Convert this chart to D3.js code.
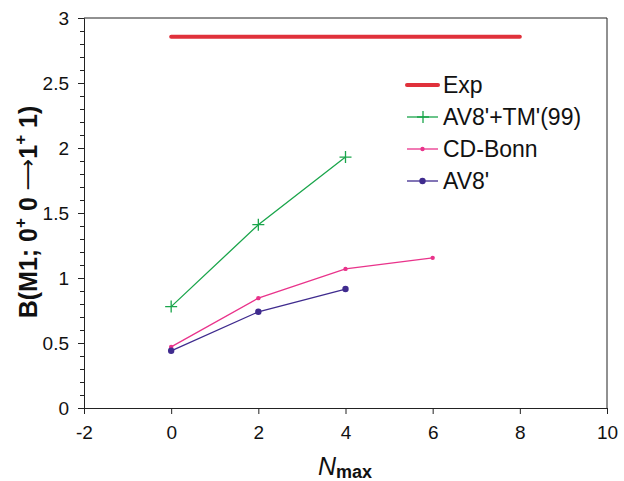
<!DOCTYPE html>
<html>
<head>
<meta charset="utf-8">
<script src="https://cdn.jsdelivr.net/npm/d3@7"></script>
<style>
  body { margin: 0; background: #fff; }
  svg { display: block; font-family: "Liberation Sans", Arial, Helvetica, sans-serif; }
</style>
</head>
<body>
<svg id="chart" width="624" height="481"></svg>
<script>
// values
const nmax = [0, 2, 4, 6];
const expValue = 2.855;
const expRange = [0, 8];
const av8tm = [0.78, 1.41, 1.93];
const cdBonn = [0.47, 0.845, 1.07, 1.155];
const av8 = [0.44, 0.74, 0.915];
const xTicks = [-2, 0, 2, 4, 6, 8, 10];
const yTicks = [0, 0.5, 1, 1.5, 2, 2.5, 3];
const legendNames = ["Exp", "AV8'+TM'(99)", "CD-Bonn", "AV8'"];

const colors = { exp: '#e0313b', tm: '#1aa54b', bonn: '#e9338b', av8: '#3f2b8e' };

const svg = d3.select('#chart');
const margin = { left: 84, right: 17, top: 18, bottom: 73 };
const width = 624, height = 481;

const x = d3.scaleLinear().domain([-2, 10]).range([margin.left, width - margin.right]);
const y = d3.scaleLinear().domain([0, 3]).range([height - margin.bottom, margin.top]);

// frame: top and right edges
svg.append('path')
    .attr('d', `M${x(-2)},${y(3)}H${x(10)}V${y(0)}`)
    .attr('fill', 'none')
    .attr('stroke', '#222')
    .attr('stroke-width', 1);

// x axis (plain hyphen for negatives, like the original)
const xAxis = svg.append('g')
    .attr('transform', `translate(0,${y(0)})`)
    .call(d3.axisBottom(x).tickValues(xTicks).tickSize(6).tickPadding(12).tickFormat(d => String(d)));
xAxis.select('.domain').attr('stroke', '#222');
xAxis.selectAll('.tick line').attr('stroke', '#222');
xAxis.selectAll('text').style('font-size', '19px').attr('fill', '#111');

// y axis with minor ticks every 0.1
const yMinor = svg.append('g')
    .attr('transform', `translate(${x(-2)},0)`)
    .call(d3.axisLeft(y).ticks(30).tickSize(4).tickFormat(''));
yMinor.select('.domain').remove();
yMinor.selectAll('.tick line').attr('stroke', '#222');

const yAxis = svg.append('g')
    .attr('transform', `translate(${x(-2)},0)`)
    .call(d3.axisLeft(y).tickValues(yTicks).tickSize(6).tickPadding(9).tickFormat(d => String(d)));
yAxis.select('.domain').attr('stroke', '#222');
yAxis.selectAll('.tick line').attr('stroke', '#222');
yAxis.selectAll('text').style('font-size', '19px').attr('fill', '#111');

// axis titles
const xt = svg.append('text')
    .attr('x', 318)
    .attr('y', 475)
    .attr('fill', '#111');
xt.append('tspan').text('N').style('font-style', 'italic').style('font-size', '25px');
xt.append('tspan').text('max').style('font-weight', 'bold').style('font-size', '18px').attr('dy', 3);

const yt = svg.append('text')
    .attr('transform', 'translate(37,212) rotate(-90)')
    .attr('text-anchor', 'middle')
    .attr('fill', '#111')
    .style('font-weight', 'bold')
    .style('font-size', '25px');
yt.append('tspan').text('B(M1; 0');
yt.append('tspan').text('+').attr('dy', -11).style('font-size', '17px');
yt.append('tspan').text(' 0 ').attr('dy', 11);
yt.append('tspan').text('\u27F6')
    .style('font-family', '"DejaVu Sans", sans-serif')
    .style('font-weight', 'normal')
    .style('font-size', '22px')
    .attr('dy', -2);
yt.append('tspan').text('1').attr('dy', 2);
yt.append('tspan').text('+').attr('dy', -11).style('font-size', '17px');
yt.append('tspan').text(' 1)').attr('dy', 11);

// Exp line
svg.append('line')
    .attr('x1', x(expRange[0])).attr('x2', x(expRange[1]))
    .attr('y1', y(expValue)).attr('y2', y(expValue))
    .attr('stroke', colors.exp)
    .attr('stroke-width', 4)
    .attr('stroke-linecap', 'round');

const line = d3.line().x(d => x(d[0])).y(d => y(d[1]));

function series(vals, color) {
    const pts = vals.map((v, i) => [nmax[i], v]);
    svg.append('path')
        .datum(pts)
        .attr('d', line)
        .attr('fill', 'none')
        .attr('stroke', color)
        .attr('stroke-width', 1.3);
    return pts;
}

const tmPts = series(av8tm, colors.tm);
svg.append('g').selectAll('path')
    .data(tmPts)
    .join('path')
    .attr('d', d => `M${x(d[0]) - 6},${y(d[1])}h12M${x(d[0])},${y(d[1]) - 6}v12`)
    .attr('stroke', colors.tm)
    .attr('stroke-width', 1.3);

const bonnPts = series(cdBonn, colors.bonn);
svg.append('g').selectAll('circle')
    .data(bonnPts)
    .join('circle')
    .attr('cx', d => x(d[0])).attr('cy', d => y(d[1]))
    .attr('r', 2.2)
    .attr('fill', colors.bonn);

const av8Pts = series(av8, colors.av8);
svg.append('g').selectAll('circle')
    .data(av8Pts)
    .join('circle')
    .attr('cx', d => x(d[0])).attr('cy', d => y(d[1]))
    .attr('r', 3.2)
    .attr('fill', colors.av8);

// legend
const legend = svg.append('g').attr('transform', 'translate(407,85)');
const legendColors = [colors.exp, colors.tm, colors.bonn, colors.av8];
legendNames.forEach((name, i) => {
    const g = legend.append('g').attr('transform', `translate(0,${i * 32})`);
    g.append('line')
        .attr('x1', 0).attr('x2', 31)
        .attr('stroke', legendColors[i])
        .attr('stroke-width', i === 0 ? 4 : 1.3)
        .attr('stroke-linecap', i === 0 ? 'round' : 'butt');
    if (i === 1) {
        g.append('path').attr('d', 'M10,0h12M16,-6v12').attr('stroke', legendColors[i]).attr('stroke-width', 1.3);
    } else if (i === 2) {
        g.append('circle').attr('cx', 15.5).attr('r', 2.2).attr('fill', legendColors[i]);
    } else if (i === 3) {
        g.append('circle').attr('cx', 15.5).attr('r', 3.2).attr('fill', legendColors[i]);
    }
    g.append('text')
        .attr('x', 36)
        .attr('y', 8)
        .attr('fill', '#111')
        .style('font-size', '23px')
        .text(name);
});
</script>
</body>
</html>
